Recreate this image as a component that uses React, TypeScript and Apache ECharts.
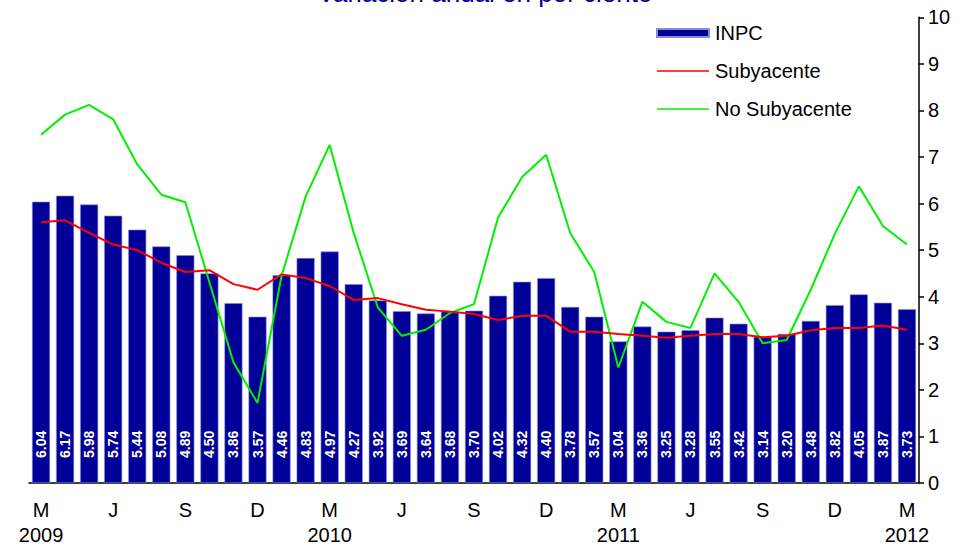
import React, { useEffect, useRef } from "react";
import * as echarts from "echarts";

const categories = [
  "M\n2009", "A", "M", "J", "J", "A", "S", "O", "N", "D", "E", "F",
  "M\n2010", "A", "M", "J", "J", "A", "S", "O", "N", "D", "E", "F",
  "M\n2011", "A", "M", "J", "J", "A", "S", "O", "N", "D", "E", "F",
  "M\n2012",
];

const inpc = [
  6.04, 6.17, 5.98, 5.74, 5.44, 5.08, 4.89, 4.5, 3.86, 3.57, 4.46, 4.83,
  4.97, 4.27, 3.92, 3.69, 3.64, 3.68, 3.7, 4.02, 4.32, 4.4, 3.78, 3.57,
  3.04, 3.36, 3.25, 3.28, 3.55, 3.42, 3.14, 3.2, 3.48, 3.82, 4.05, 3.87,
  3.73,
];

const subyacente = [
  5.6, 5.64, 5.37, 5.12, 5.0, 4.73, 4.53, 4.57, 4.27, 4.15, 4.48, 4.4,
  4.23, 3.93, 3.97, 3.84, 3.72, 3.68, 3.63, 3.5, 3.59, 3.59, 3.25, 3.25,
  3.2, 3.16, 3.12, 3.16, 3.2, 3.2, 3.13, 3.16, 3.28, 3.33, 3.33, 3.38,
  3.29,
];

const noSubyacente = [
  7.48, 7.91, 8.12, 7.81, 6.84, 6.19, 6.03, 4.31, 2.59, 1.72, 4.45, 6.15,
  7.26, 5.37, 3.77, 3.16, 3.29, 3.65, 3.84, 5.7, 6.57, 7.05, 5.37, 4.53,
  2.48, 3.89, 3.46, 3.33, 4.5, 3.89, 3.0, 3.07, 4.15, 5.35, 6.37, 5.52,
  5.12,
];

const yTicks = { min: 0, max: 10, interval: 1 };
const titleText = "Variación anual en por ciento";
const seriesNames = ["INPC", "Subyacente", "No Subyacente"];

const FONT = "Arial, 'Liberation Sans', sans-serif";
const LINE_ICON = "path://M0,0 L52,0 L52,1.5 L0,1.5 Z";

export default function App() {
  const ref = useRef<HTMLDivElement>(null);

  useEffect(() => {
    if (!ref.current) return;
    const chart = echarts.init(ref.current, null, { renderer: "svg" });
    chart.setOption({
      animation: false,
      backgroundColor: "#ffffff",
      textStyle: { fontFamily: FONT },
      grid: { left: 29, right: 46, top: 17.3, bottom: 62.6, containLabel: false },
      graphic: [
        {
          type: "text",
          x: 485,
          y: -7,
          style: {
            text: titleText,
            fill: "#000099",
            font: `26px ${FONT}`,
            align: "center",
            verticalAlign: "middle",
          },
        },
      ],
      legend: {
        orient: "vertical",
        left: 656,
        top: 23,
        padding: 0,
        itemWidth: 52,
        itemHeight: 8,
        itemGap: 18,
        textStyle: { fontSize: 20, color: "#000", fontFamily: FONT, padding: [0, 0, 0, 1] },
        data: [
          { name: seriesNames[0], icon: "rect" },
          { name: seriesNames[1], icon: LINE_ICON },
          { name: seriesNames[2], icon: LINE_ICON },
        ],
      },
      xAxis: {
        type: "category",
        data: categories,
        boundaryGap: true,
        axisLine: { lineStyle: { color: "#000", width: 1.5 } },
        axisTick: { interval: 2, length: 5, lineStyle: { color: "#000", width: 1.5 } },
        axisLabel: {
          interval: 2,
          fontSize: 20,
          color: "#000",
          margin: 14,
          lineHeight: 25,
          fontFamily: FONT,
        },
      },
      yAxis: {
        type: "value",
        position: "right",
        min: yTicks.min,
        max: yTicks.max,
        interval: yTicks.interval,
        splitLine: { show: false },
        axisLine: { show: true, lineStyle: { color: "#000", width: 1.5 } },
        axisTick: { show: true, length: 5, lineStyle: { color: "#000", width: 1.5 } },
        axisLabel: { fontSize: 20, color: "#000", margin: 9, fontFamily: FONT },
      },
      series: [
        {
          name: seriesNames[0],
          type: "bar",
          data: inpc,
          barWidth: 18,
          itemStyle: { color: "#000099", borderColor: "#8a8ad0", borderWidth: 0.6 },
          label: {
            show: true,
            position: "insideBottom",
            distance: 25,
            rotate: 90,
            align: "left",
            verticalAlign: "middle",
            color: "#fff",
            fontWeight: "bold",
            fontSize: 14,
            fontFamily: FONT,
            formatter: (p: any) => p.value.toFixed(2),
          },
          z: 1,
        },
        {
          name: seriesNames[1],
          type: "line",
          data: subyacente,
          symbol: "none",
          lineStyle: { color: "#ff0000", width: 2 },
          itemStyle: { color: "#ff0000" },
          z: 3,
        },
        {
          name: seriesNames[2],
          type: "line",
          data: noSubyacente,
          symbol: "none",
          lineStyle: { color: "#00f000", width: 2 },
          itemStyle: { color: "#00f000" },
          z: 2,
        },
      ],
    });
    return () => chart.dispose();
  }, []);

  return (
    <div
      ref={ref}
      style={{ width: 965, height: 547, position: "absolute", left: 0, top: 0 }}
    />
  );
}
